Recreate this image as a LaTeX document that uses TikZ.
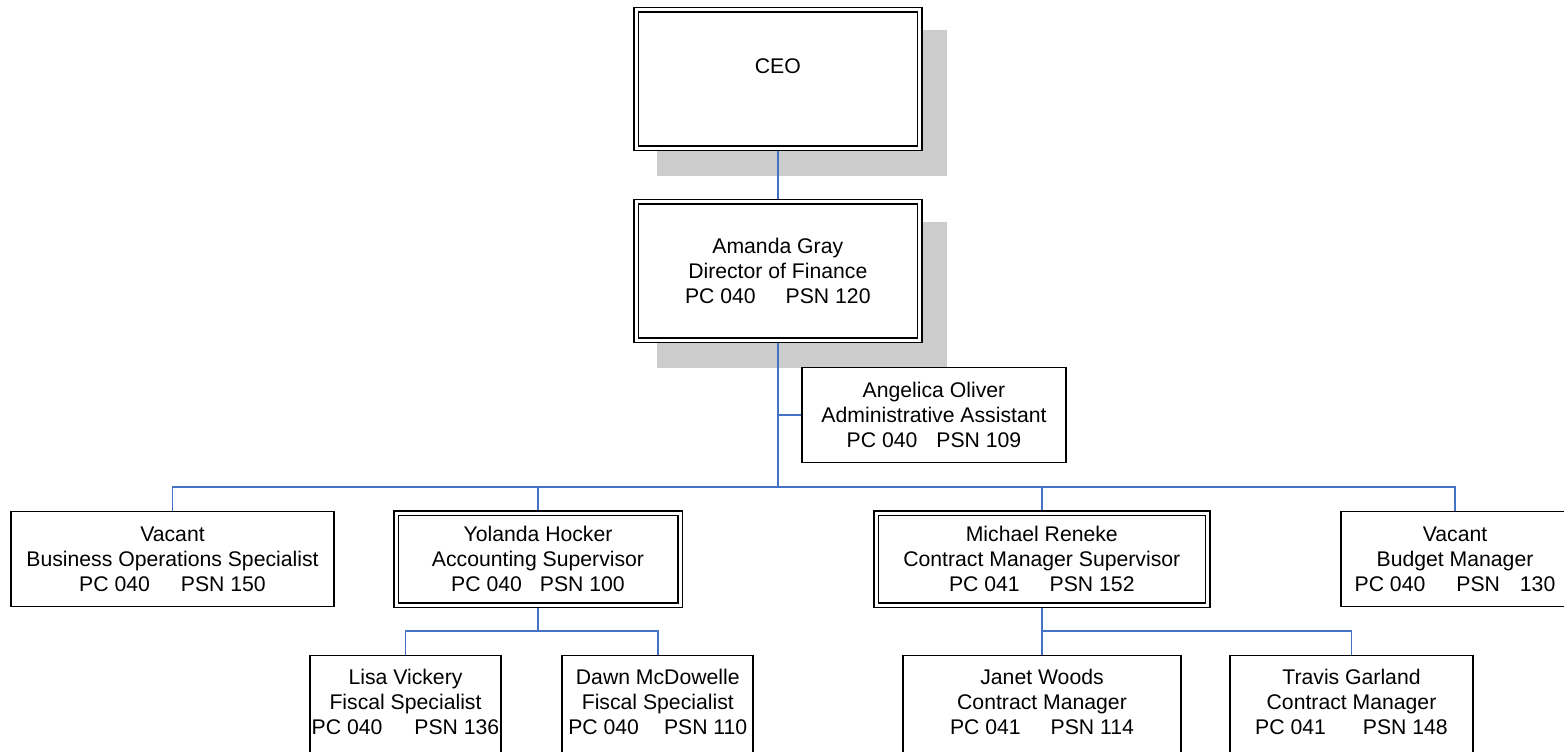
\documentclass[tikz,border=0pt]{standalone}
\usepackage{fontspec}
\setmainfont{Liberation Sans}
\usetikzlibrary{backgrounds}
\definecolor{linkblue}{HTML}{4472C4}

\begin{document}
\begin{tikzpicture}[x=0.5pt, y=-0.5pt,
    every node/.style={font=\fontsize{10.6pt}{12.5pt}\selectfont, align=center, inner sep=0pt, outer sep=0pt},
    post/.style={draw=black, line width=0.9pt, fill=white, minimum height=47.5pt},
    lead/.style={draw=black, line width=0.75pt, double=white, double distance=1.5pt, fill=white, minimum height=46pt},
    staff/.style={post, minimum height=59.3pt},
    link/.style={draw=linkblue, line width=0.8pt},
    shade/.style={fill=black!20}]
      \useasboundingbox (0,0) rectangle (1564,751);

      \node[lead, minimum width=141.75pt, minimum height=69.4pt] (ceo) at (777.8,78.9) {CEO\\\mbox{}};
      \node[lead, minimum width=141.75pt, minimum height=69.25pt] (director) at (777.8,271) {Amanda Gray\\Director of Finance\\PC 040\hspace{15pt}PSN 120};
      \node[post, minimum width=132pt] (angelica) at (934,415) {Angelica Oliver\\Administrative Assistant\\PC 040\hspace{9.5pt}PSN 109};

      \node[post, minimum width=161.8pt] (bos) at (172.5,558.9) {Vacant\\Business Operations Specialist\\PC 040\hspace{15.5pt}PSN 150};
      \node[lead, minimum width=142pt] (yolanda) at (538,559) {Yolanda Hocker\\Accounting Supervisor\\PC 040\hspace{9pt}PSN 100};
      \node[lead, minimum width=165.75pt] (michael) at (1041.8,559) {Michael Reneke\\Contract Manager Supervisor\\PC 041\hspace{15pt}PSN 152};
      \node[post, minimum width=114pt] (budget) at (1455,559) {Vacant\\Budget Manager\\PC 040\hspace{15.5pt}PSN\hspace{10pt}130};

      \node[staff, minimum width=95.5pt] (lisa) at (405.5,714.8) {Lisa Vickery\\Fiscal Specialist\\PC 040\hspace{16pt}PSN 136\\\mbox{}};
      \node[staff, minimum width=95.5pt] (dawn) at (657.8,714.8) {Dawn McDowelle\\Fiscal Specialist\\PC 040\hspace{12.5pt}PSN 110\\\mbox{}};
      \node[staff, minimum width=138.85pt] (janet) at (1042,714.8) {Janet Woods\\Contract Manager\\PC 041\hspace{15pt}PSN 114\\\mbox{}};
      \node[staff, minimum width=121.85pt] (travis) at (1351.5,714.8) {Travis Garland\\Contract Manager\\PC 041\hspace{18.5pt}PSN 148\\\mbox{}};

      \coordinate (hub) at (777.8,487);

      \begin{pgfonlayer}{background}
        \fill[shade] ([shift={(21,20.5)}]ceo.north west) rectangle ([shift={(27.5,27.7)}]ceo.south east);
        \fill[shade] ([shift={(21,20.3)}]director.north west) rectangle ([shift={(27.5,27.8)}]director.south east);

        \draw[link] (ceo.south) -- (director.north);
        \draw[link] (director.south) -- (hub);
        \draw[link] (angelica.west) -- (angelica.west -| hub);
        \foreach \n in {bos,yolanda,michael,budget}
          \draw[link] (hub) -| (\n.north);
        \foreach \n in {lisa,dawn}
          \draw[link] (yolanda.south) -- ++(0,26) -| (\n.north);
        \foreach \n in {janet,travis}
          \draw[link] (michael.south) -- ++(0,26) -| (\n.north);
      \end{pgfonlayer}
    \end{tikzpicture}
\end{document}
